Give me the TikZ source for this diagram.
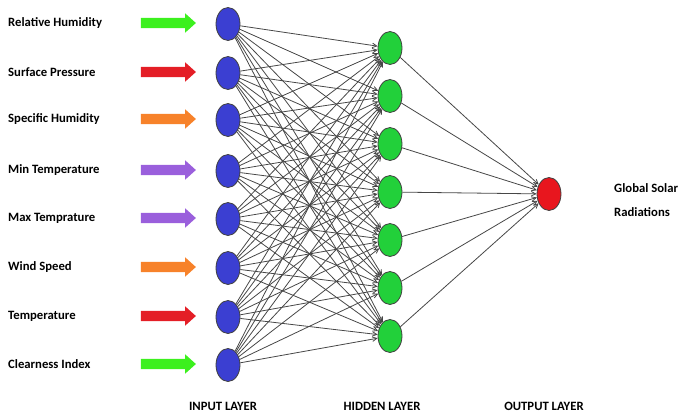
\documentclass[tikz,border=0pt]{standalone}
\usepackage{fontspec}
\setmainfont{Carlito}
\usetikzlibrary{shapes.geometric,shapes.arrows,arrows.meta}

\definecolor{inblue}{HTML}{3B3FD2}
\definecolor{hidgreen}{HTML}{22D03A}
\definecolor{outred}{HTML}{E8161E}
\definecolor{arrgreen}{HTML}{3CF01E}
\definecolor{arrred}{HTML}{E41E26}
\definecolor{arrorange}{HTML}{F7822A}
\definecolor{arrpurple}{HTML}{9A5FDC}
\definecolor{wire}{HTML}{474747}

\tikzset{
  neuron/.style={ellipse, draw=black!75, line width=0.8pt, minimum width=24pt, minimum height=33pt, inner sep=0pt},
  inneuron/.style={neuron, fill=inblue},
  hidneuron/.style={neuron, fill=hidgreen},
  outneuron/.style={neuron, fill=outred},
  featlabel/.style={anchor=west, font=\bfseries\fontsize{12.7}{14}\selectfont, inner sep=0pt},
  layerlabel/.style={font=\bfseries\fontsize{12.7}{14}\selectfont, inner sep=0pt},
  link/.style={draw=wire, line width=0.8pt, -{Straight Barb[length=4.5pt,width=4.5pt]}},
  blockarrow/.style={single arrow, draw=none, minimum height=55pt, minimum width=19pt,
    text height=0pt, text depth=0pt, text width=0pt,
    inner xsep=0pt, inner ysep=5pt, single arrow head extend=4.5pt,
    single arrow tip angle=84, outer sep=0pt}
}

\begin{document}
\begin{tikzpicture}[x=1pt,y=-1pt]
\useasboundingbox (0,0) rectangle (679,415);

% input features: label, arrow colour, vertical position
\foreach \i/\txt/\col/\y in {
  1/Relative Humidity/arrgreen/23,
  2/Surface Pressure/arrred/72,
  3/Specific Humidity/arrorange/119,
  4/Min Temperature/arrpurple/170,
  5/Max Temprature/arrpurple/218,
  6/Wind Speed/arrorange/267,
  7/Temperature/arrred/316,
  8/Clearness Index/arrgreen/364} {
  \node[featlabel] (lab\i) at (8,\y) {\txt};
  \node[blockarrow, fill=\col] (arr\i) at (165.5,\y) {};
  \node[inneuron] (in\i) at (228,\y+1) {};
}

% hidden layer
\foreach \j/\y in {1/48,2/96,3/144,4/192,5/240,6/288,7/336} {
  \node[hidneuron] (hid\j) at (390,\y) {};
}

% output layer
\node[outneuron] (out) at (549,194) {};

% fully connected weights
\foreach \i in {1,...,8} {
  \foreach \j in {1,...,7} {
    \draw[link] (in\i) -- (hid\j);
  }
}
\foreach \j in {1,...,7} {
  \draw[link] (hid\j) -- (out);
}

% output description
\node[featlabel] (target) at (614,188) {Global Solar};
\node[featlabel] (target2) at (614,212) {Radiations};

% layer captions
\node[layerlabel] (capin) at (223,406) {INPUT LAYER};
\node[layerlabel] (caphid) at (382,406) {HIDDEN LAYER};
\node[layerlabel] (capout) at (544,406) {OUTPUT LAYER};
\end{tikzpicture}
\end{document}
